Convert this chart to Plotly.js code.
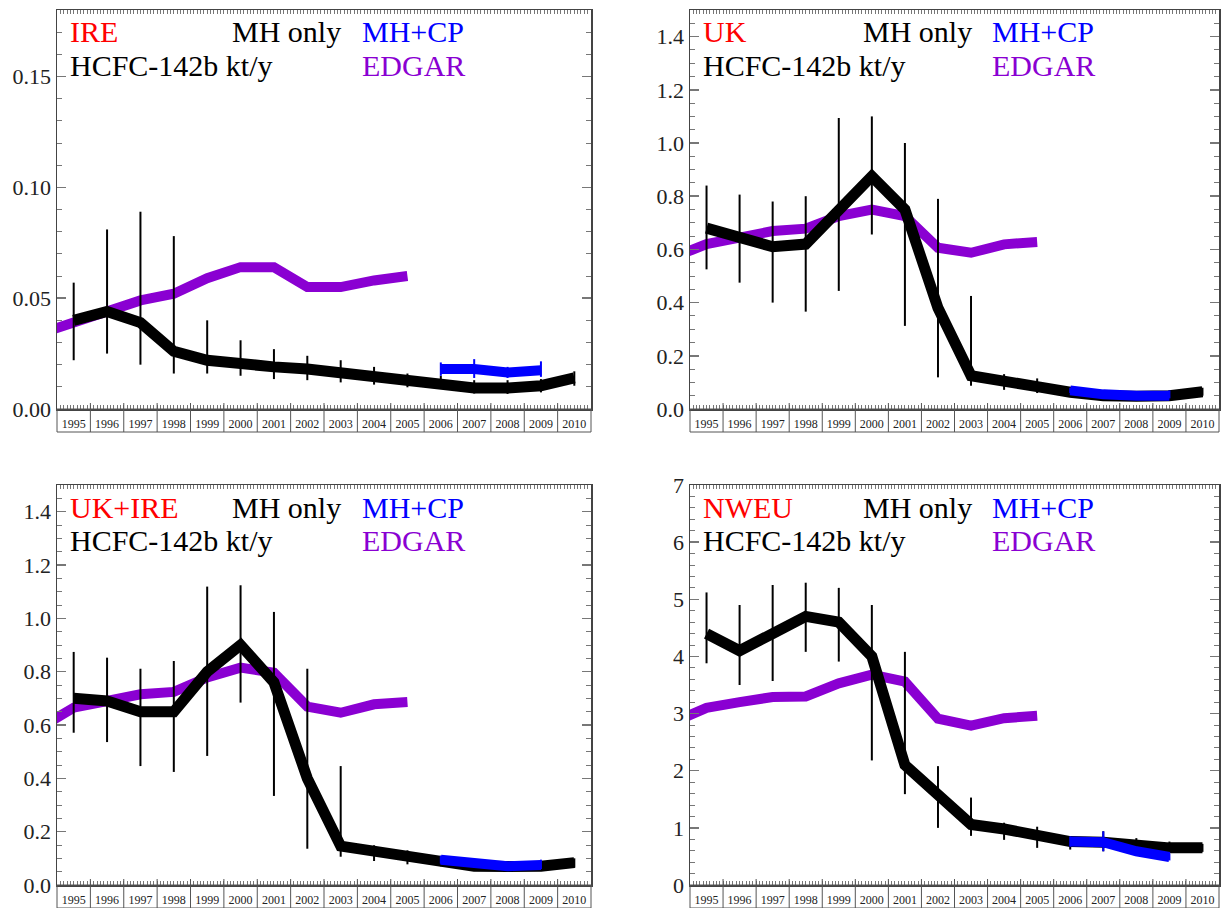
<!DOCTYPE html>
<html>
<head>
<meta charset="utf-8">
<script src="https://cdn.plot.ly/plotly-3.0.1.min.js"></script>
<style>html,body{margin:0;padding:0;background:#fff;}#chart{width:1224px;height:908px;}</style>
</head>
<body>
<div id="chart"></div>
<script>
// ---- categories ----
const years = [1995,1996,1997,1998,1999,2000,2001,2002,2003,2004,2005,2006,2007,2008,2009,2010];
const yearLabels = years.map(String);
const edgarYears = [1994,1995,1996,1997,1998,1999,2000,2001,2002,2003,2004,2005];
const cpYears = [2006,2007,2008,2009];
const regionLabels = ['IRE','UK','UK+IRE','NWEU'];

// ---- IRE ----
const ireMH   = [0.040,0.044,0.039,0.026,0.022,0.020,0.019,0.018,0.0165,0.0146,0.0128,0.011,0.0095,0.0095,0.0105,0.014];
const ireMHHi = [0.057,0.081,0.089,0.078,0.040,0.031,0.027,0.024,0.022,0.019,0.016,0.015,0.013,0.013,0.0135,0.017];
const ireMHLo = [0.022,0.025,0.020,0.016,0.016,0.015,0.0135,0.013,0.012,0.011,0.0098,0.009,0.007,0.0068,0.0075,0.0105];
const ireEDGAR = [0.034,0.039,0.044,0.049,0.052,0.059,0.064,0.064,0.055,0.055,0.058,0.060];
const ireCP   = [0.018,0.018,0.0165,0.0175];
const ireCPHi = [0.021,0.0225,0.019,0.0215];
const ireCPLo = [0.015,0.014,0.014,0.0145];

// ---- UK ----
const ukMH   = [0.68,0.65,0.61,0.62,0.75,0.875,0.75,0.38,0.125,0.10,0.084,0.063,0.05,0.048,0.05,0.065];
const ukMHHi = [0.84,0.806,0.78,0.80,1.094,1.10,1.0,0.79,0.425,0.131,0.115,0.08,0.07,0.065,0.07,0.08];
const ukMHLo = [0.525,0.475,0.40,0.366,0.444,0.656,0.3125,0.119,0.0875,0.072,0.06,0.045,0.035,0.035,0.035,0.05];
const ukEDGAR = [0.57,0.62,0.644,0.669,0.678,0.725,0.75,0.725,0.606,0.5875,0.619,0.628];
const ukCP   = [0.07,0.055,0.05,0.05];
const ukCPHi = [0.08,0.07,0.065,0.07];
const ukCPLo = [0.06,0.045,0.04,0.04];

// ---- UK+IRE ----
const ukireMH   = [0.70,0.69,0.65,0.65,0.80,0.90,0.76,0.40,0.146,0.1275,0.105,0.09,0.07,0.069,0.07,0.084];
const ukireMHHi = [0.874,0.8525,0.811,0.84,1.119,1.124,1.024,0.811,0.446,0.149,0.13,0.105,0.09,0.085,0.09,0.10];
const ukireMHLo = [0.571,0.536,0.446,0.424,0.484,0.684,0.334,0.136,0.106,0.09,0.0775,0.07,0.055,0.055,0.055,0.065];
const ukireEDGAR = [0.59,0.665,0.69,0.715,0.724,0.778,0.815,0.796,0.669,0.646,0.6775,0.686];
const ukireCP   = [0.095,0.08,0.07,0.075];
const ukireCPHi = [0.11,0.095,0.085,0.095];
const ukireCPLo = [0.08,0.065,0.06,0.06];

// ---- NWEU ----
const nweuMH   = [4.4,4.1,4.4,4.7,4.6,4.0,2.1,1.6,1.06,0.98,0.85,0.76,0.75,0.70,0.65,0.65];
const nweuMHHi = [5.12,4.9,5.25,5.29,5.2,4.9,4.08,2.08,1.53,1.09,1.02,0.85,0.94,0.82,0.76,0.72];
const nweuMHLo = [3.88,3.5,3.57,4.08,3.91,2.18,1.59,1.0,0.86,0.79,0.65,0.62,0.59,0.62,0.56,0.58];
const nweuEDGAR = [2.85,3.1,3.2,3.29,3.3,3.53,3.68,3.56,2.91,2.79,2.92,2.96];
const nweuCP   = [0.76,0.75,0.59,0.49];
const nweuCPHi = [0.85,0.94,0.66,0.55];
const nweuCPLo = [0.67,0.59,0.52,0.43];

// ---- y-axis settings per panel ----
const yRanges = [[0,0.18],[0,1.5],[0,1.5],[0,7]];
const yDticks = [0.05,0.2,0.2,1];
const yMinor  = [0.01,0.05,0.05,0.2];
const yFormats = ['.2f','.1f','.1f','d'];

const C_BLACK = '#000000', C_BLUE = '#0000ff', C_PURPLE = '#8a00d2', C_RED = '#ff0000';
const SERIF = 'Liberation Serif, Times New Roman, serif';

const panels = [
  {mh:ireMH, hi:ireMHHi, lo:ireMHLo, ed:ireEDGAR, cp:ireCP, cphi:ireCPHi, cplo:ireCPLo},
  {mh:ukMH, hi:ukMHHi, lo:ukMHLo, ed:ukEDGAR, cp:ukCP, cphi:ukCPHi, cplo:ukCPLo},
  {mh:ukireMH, hi:ukireMHHi, lo:ukireMHLo, ed:ukireEDGAR, cp:ukireCP, cphi:ukireCPHi, cplo:ukireCPLo},
  {mh:nweuMH, hi:nweuMHHi, lo:nweuMHLo, ed:nweuEDGAR, cp:nweuCP, cphi:nweuCPHi, cplo:nweuCPLo}
];

const W = 1224, H = 908;
const xDomains = [[57/W, 591/W],[690/W,1219/W],[57/W,591/W],[690/W,1219/W]];
const yDomains = [[1-409/H,1-10/H],[1-409/H,1-10/H],[1-885/H,1-485/H],[1-885/H,1-485/H]];

const traces = [];
const layout = {
  width: W, height: H,
  margin: {l:0, r:0, t:0, b:0},
  paper_bgcolor: '#fff', plot_bgcolor: '#fff',
  showlegend: false,
  annotations: [], shapes: []
};

panels.forEach((p, i) => {
  const n = i + 1;
  const xa = n === 1 ? 'x' : 'x' + n;
  const ya = n === 1 ? 'y' : 'y' + n;
  const xKey = n === 1 ? 'xaxis' : 'xaxis' + n;
  const yKey = n === 1 ? 'yaxis' : 'yaxis' + n;

  // EDGAR
  traces.push({
    x: edgarYears, y: p.ed, xaxis: xa, yaxis: ya, type: 'scatter', mode: 'lines',
    line: {color: C_PURPLE, width: 10}, hoverinfo: 'skip'
  });
  // MH only
  traces.push({
    x: years, y: p.mh, xaxis: xa, yaxis: ya, type: 'scatter', mode: 'lines',
    line: {color: C_BLACK, width: 11},
    error_y: {type: 'data', symmetric: false,
      array: p.hi.map((v, k) => v - p.mh[k]),
      arrayminus: p.mh.map((v, k) => v - p.lo[k]),
      color: C_BLACK, thickness: 2, width: 0},
    hoverinfo: 'skip'
  });
  // MH+CP
  traces.push({
    x: cpYears, y: p.cp, xaxis: xa, yaxis: ya, type: 'scatter', mode: 'lines',
    line: {color: C_BLUE, width: 10},
    error_y: {type: 'data', symmetric: false,
      array: p.cphi.map((v, k) => v - p.cp[k]),
      arrayminus: p.cp.map((v, k) => v - p.cplo[k]),
      color: C_BLUE, thickness: 2, width: 0},
    hoverinfo: 'skip'
  });

  layout[xKey] = {
    domain: xDomains[i], anchor: ya,
    range: [years[0] - 0.5, years[years.length - 1] + 0.5],
    tickmode: 'array', tickvals: years, ticktext: yearLabels,
    ticks: 'inside', ticklen: 0, tickcolor: '#666',
    tickfont: {family: SERIF, size: 12, color: '#222'},
    ticklabelstandoff: 3,
    minor: {tickmode: 'linear', tick0: years[0] - 0.5, dtick: 0.1, ticks: 'inside', ticklen: 4, tickcolor: '#777', tickwidth: 1},
    showline: true, linecolor: '#444', linewidth: 1.5, mirror: 'ticks',
    showgrid: false, zeroline: false, fixedrange: true
  };
  layout[yKey] = {
    domain: yDomains[i], anchor: xa,
    range: yRanges[i], tickmode: 'linear', tick0: 0, dtick: yDticks[i], tickformat: yFormats[i],
    ticks: 'inside', ticklen: 9, tickwidth: 1.5, tickcolor: '#777',
    tickfont: {family: SERIF, size: 22, color: '#222'},
    minor: {tickmode: 'linear', dtick: yMinor[i], ticks: 'inside', ticklen: 5, tickcolor: '#777', tickwidth: 1},
    showline: true, linecolor: '#444', linewidth: 1.5, mirror: 'ticks',
    showgrid: false, zeroline: false, fixedrange: true
  };

  // tick-label strip under the plot
  const stripH = -23 / ((yDomains[i][1] - yDomains[i][0]) * H);
  layout.shapes.push({type: 'rect', xref: xa + ' domain', yref: ya + ' domain',
    x0: 0, x1: 1, y0: stripH, y1: 0, line: {color: '#555', width: 1}, layer: 'above'});
  years.slice(0, -1).forEach(yr => {
    layout.shapes.push({type: 'line', xref: xa, yref: ya + ' domain',
      x0: yr + 0.5, x1: yr + 0.5, y0: stripH, y1: 0.015, line: {color: '#555', width: 1}, layer: 'above'});
  });

  // in-panel labels
  const ann = (text, x, y, color) => ({
    text: text, xref: xa + ' domain', yref: ya + ' domain', x: x, y: y,
    xanchor: 'left', yanchor: 'middle', showarrow: false,
    font: {family: SERIF, size: 30, color: color}
  });
  layout.annotations.push(ann(regionLabels[i], 0.020, 0.945, C_RED));
  layout.annotations.push(ann('MH only', 0.324, 0.945, C_BLACK));
  layout.annotations.push(ann('MH+CP', 0.568, 0.945, C_BLUE));
  layout.annotations.push(ann('HCFC-142b kt/y', 0.020, 0.862, C_BLACK));
  layout.annotations.push(ann('EDGAR', 0.568, 0.862, C_PURPLE));
});

Plotly.newPlot('chart', traces, layout, {staticPlot: true, displayModeBar: false});
</script>
</body>
</html>
